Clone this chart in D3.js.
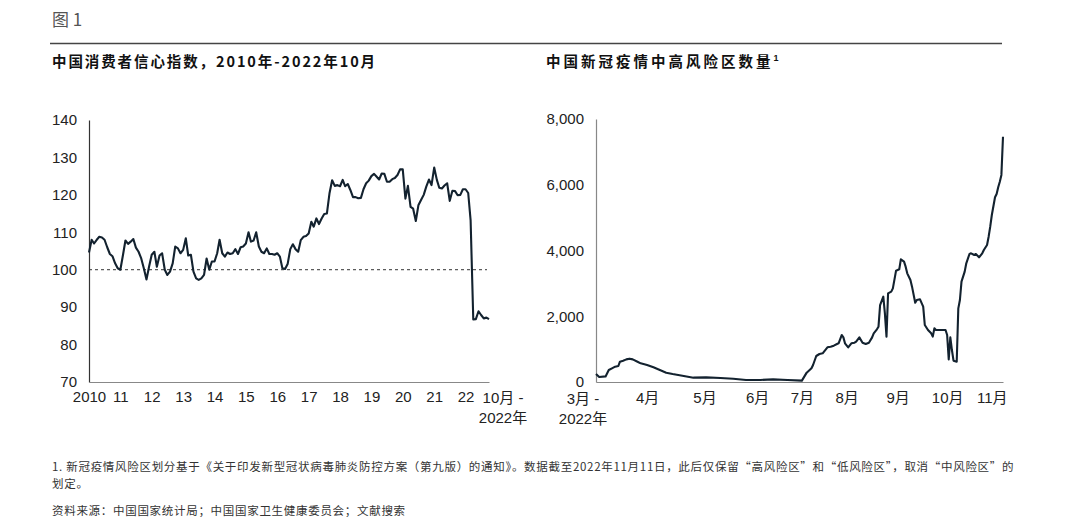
<!DOCTYPE html>
<html><head><meta charset="utf-8">
<script src="https://cdn.jsdelivr.net/npm/d3@7"></script>
<style>
body{margin:0;background:#fff;}
svg{display:block;}
.tick text{font-family:"Liberation Sans",Arial,"Noto Sans CJK SC",sans-serif;}
</style></head>
<body><svg id="c" width="1080" height="526"></svg>
<script>
// ---------- DATA ----------
const cciStart = "2010-01";
const cciValues = [
 104.6,108.0,107.0,108.0,108.8,108.6,108.0,106.0,104.2,103.6,101.7,100.4,
 100.0,104.0,107.8,106.9,107.5,108.2,105.9,104.8,103.0,100.4,97.4,100.8,
 104.0,104.8,100.8,103.8,104.4,100.0,98.6,99.5,101.7,106.2,105.7,104.4,
 105.3,108.4,103.8,104.0,99.5,97.7,97.3,97.7,98.6,103.0,100.0,102.2,
 102.2,104.4,108.0,104.4,103.5,104.6,104.2,104.4,105.5,104.2,106.0,106.2,
 107.0,110.0,107.5,107.8,110.0,106.2,104.8,104.4,105.7,104.2,104.2,104.0,
 104.4,103.5,100.4,100.2,101.5,105.5,106.8,105.5,104.8,107.9,108.8,109.0,
 109.7,112.8,111.5,113.7,112.2,113.7,114.9,115.0,120.5,123.9,122.4,122.6,
 122.3,124.0,122.3,122.9,121.3,119.4,119.4,119.1,119.2,121.5,123.1,123.8,
 125.0,125.6,124.9,124.1,125.7,125.6,123.5,123.5,124.2,124.5,125.3,126.8,
 126.8,119.0,122.4,116.8,116.3,113.0,117.2,118.6,120.0,122.2,124.1,122.6,
 127.3,124.0,121.9,121.7,122.5,123.1,118.4,121.1,121.0,119.9,120.0,121.5,
 121.5,120.5,113.2,86.7,86.8,88.9,87.9,87.0,87.2,86.8
];
const cciYTicks = [70,80,90,100,110,120,130,140];
const cciXTickLabels = ["2010","11","12","13","14","15","16","17","18","19","20","21","22"];
const cciEndLabel = ["10月 -","2022年"];
const cciRef = 100;

const riskDates = ["2022-03-01","2022-03-03","2022-03-07","2022-03-09","2022-03-11","2022-03-13","2022-03-15","2022-03-16","2022-03-18","2022-03-20","2022-03-22","2022-03-24","2022-03-27","2022-03-29",
 "2022-04-02","2022-04-06","2022-04-10","2022-04-14","2022-04-18","2022-04-25",
 "2022-05-01","2022-05-09","2022-05-18","2022-05-26",
 "2022-06-03","2022-06-12","2022-06-20","2022-06-29",
 "2022-07-08","2022-07-11","2022-07-14","2022-07-15","2022-07-17","2022-07-19","2022-07-21","2022-07-24","2022-07-26","2022-07-28","2022-07-30","2022-07-31",
 "2022-08-02","2022-08-03","2022-08-04","2022-08-06","2022-08-08","2022-08-10","2022-08-11","2022-08-13","2022-08-15","2022-08-17","2022-08-19","2022-08-21","2022-08-22","2022-08-24","2022-08-25","2022-08-26","2022-08-28","2022-08-29","2022-08-30","2022-08-31",
 "2022-09-02","2022-09-03","2022-09-05","2022-09-07","2022-09-08","2022-09-10","2022-09-11","2022-09-12","2022-09-14","2022-09-15","2022-09-17","2022-09-18","2022-09-20","2022-09-22","2022-09-23","2022-09-25","2022-09-27","2022-09-28","2022-09-29","2022-09-30",
 "2022-10-03","2022-10-05","2022-10-06","2022-10-07","2022-10-08","2022-10-09","2022-10-10","2022-10-11","2022-10-13","2022-10-14","2022-10-15","2022-10-16","2022-10-18","2022-10-19","2022-10-21","2022-10-22","2022-10-24","2022-10-25","2022-10-27","2022-10-29","2022-10-30",
 "2022-11-01","2022-11-02","2022-11-03","2022-11-04","2022-11-06","2022-11-07","2022-11-08","2022-11-09","2022-11-10","2022-11-11"];
const riskValues = [243,150,170,365,416,466,487,618,649,689,710,689,618,568,
 517,446,365,284,243,182,
 132,142,122,101,
 61,61,81,61,
 41,284,416,517,791,852,872,1055,1075,1105,1156,1176,
 1430,1358,1176,1055,1176,1196,1227,1358,1196,1156,1196,1358,1480,1602,1683,2342,2596,2089,1379,2697,
 2748,2849,3386,3427,3731,3660,3508,3305,3103,2900,2413,2494,2515,2292,1734,1582,1480,1379,1632,1582,
 1582,1582,1582,1430,689,1358,973,649,618,2241,2494,3052,3356,3610,3894,3914,3863,3894,3792,3914,4015,
 4167,4420,4724,5080,5618,5719,5922,6093,6300,7462];
const riskYTicks = [0,2000,4000,6000,8000];
const riskXTickDates = ["2022-04-02","2022-05-08","2022-06-10","2022-07-08","2022-08-05","2022-09-06","2022-10-07","2022-11-04"];
const riskXTickLabels = ["4月","5月","6月","7月","8月","9月","10月","11月"];
const riskStartLabel = ["3月 -","2022年"];

const figLabel = "图 1";
const titleLeft = "中国消费者信心指数，2010年-2022年10月";
const titleRight = "中国新冠疫情中高风险区数量";
const footnote1 = "1. 新冠疫情风险区划分基于《关于印发新型冠状病毒肺炎防控方案（第九版）的通知》。数据截至2022年11月11日，此后仅保留“高风险区”和“低风险区”，取消“中风险区”的";
const footnote2 = "划定。";
const sourceText = "资料来源：中国国家统计局；中国国家卫生健康委员会；文献搜索";

// ---------- DRAW ----------
const svg = d3.select("#c");
svg.append("rect").attr("width",1080).attr("height",526).attr("fill","#fff");
const FONT = '"Liberation Sans",Arial,"Noto Sans CJK SC",sans-serif';
const CJK = '"Noto Sans CJK SC","Liberation Sans",sans-serif';
const LINE = "#13222f";

svg.append("text").attr("x",52).attr("y",26).attr("font-family",CJK).attr("font-size",17)
  .attr("fill","#555").text(figLabel);
svg.append("line").attr("x1",50).attr("x2",1002).attr("y1",43.5).attr("y2",43.5)
  .attr("stroke","#444").attr("stroke-width",1.3);
svg.append("text").attr("x",52).attr("y",67).attr("font-family",CJK).attr("font-size",14.5)
  .attr("font-weight","bold").attr("letter-spacing","1.9px").attr("fill","#111").text(titleLeft);
const tr = svg.append("text").attr("x",546).attr("y",67).attr("font-family",CJK).attr("font-size",14.5)
  .attr("font-weight","bold").attr("letter-spacing","3px").attr("fill","#111");
tr.append("tspan").text(titleRight);
tr.append("tspan").attr("font-size",9).attr("dy",-6).attr("font-family",FONT).text("1");

// Left chart
const parseM = d3.timeParse("%Y-%m");
const t0 = parseM(cciStart);
const cciData = cciValues.map((v,i)=>({d:d3.timeMonth.offset(t0,i), v}));
const xL = d3.scaleTime().domain([t0, cciData[cciData.length-1].d]).range([89,489]);
const yL = d3.scaleLinear().domain([70,140]).range([382,120]);

const gyL = svg.append("g").attr("transform",`translate(${xL.range()[0]},0)`)
  .call(d3.axisLeft(yL).tickValues(cciYTicks).tickSize(0).tickSizeOuter(0).tickPadding(12));
gyL.select(".domain").attr("stroke","#333").attr("stroke-width",1.2);
gyL.selectAll("text").attr("font-size",15).attr("fill","#222").attr("font-family",FONT);

const yearDates = cciXTickLabels.map((l,i)=>d3.timeYear.offset(t0,i));
const gxL = svg.append("g").attr("transform",`translate(0,${yL(70)})`)
  .call(d3.axisBottom(xL).tickValues(yearDates).tickSize(0).tickSizeOuter(0).tickPadding(9)
  .tickFormat((d,i)=>cciXTickLabels[i]));
gxL.select(".domain").attr("stroke","#888").attr("stroke-width",1.2);
gxL.selectAll("text").attr("font-size",15).attr("fill","#222").attr("font-family",FONT);
const endX = xL(cciData[cciData.length-1].d)+14;
cciEndLabel.forEach((t,i)=>svg.append("text").attr("x",endX).attr("y",yL(70)+21+i*20)
  .attr("text-anchor","middle").attr("font-family",FONT).attr("font-size",15).attr("fill","#222").text(t));

svg.append("line").attr("x1",xL.range()[0]).attr("x2",xL.range()[1]-2)
  .attr("y1",yL(cciRef)).attr("y2",yL(cciRef)).attr("stroke","#333").attr("stroke-width",1)
  .attr("stroke-dasharray","3,3");

svg.append("path").datum(cciData).attr("fill","none").attr("stroke",LINE).attr("stroke-width",2.1)
  .attr("stroke-linejoin","round")
  .attr("d",d3.line().x(d=>xL(d.d)).y(d=>yL(d.v)));

// Right chart
const parseD = d3.timeParse("%Y-%m-%d");
const riskData = riskDates.map((d,i)=>({d:parseD(d), v:riskValues[i]}));
const xR = d3.scaleTime().domain([riskData[0].d, riskData[riskData.length-1].d]).range([596,1003]);
const yR = d3.scaleLinear().domain([0,8000]).range([382,119]);

const gyR = svg.append("g").attr("transform",`translate(${xR.range()[0]},0)`)
  .call(d3.axisLeft(yR).tickValues(riskYTicks).tickSize(0).tickSizeOuter(0).tickPadding(12)
  .tickFormat(d3.format(",")));
gyR.select(".domain").attr("stroke","#888").attr("stroke-width",1.2);
gyR.selectAll("text").attr("font-size",15).attr("fill","#222").attr("font-family",FONT);

const gxR = svg.append("g").attr("transform",`translate(0,${yR(0)})`)
  .call(d3.axisBottom(xR).tickValues(riskXTickDates.map(parseD)).tickSize(0).tickSizeOuter(0).tickPadding(10)
  .tickFormat((d,i)=>riskXTickLabels[i]));
gxR.select(".domain").attr("stroke","#888").attr("stroke-width",1.2);
gxR.selectAll("text").attr("font-size",15).attr("fill","#222").attr("font-family",FONT);
const startX = xR(riskData[0].d)-13;
riskStartLabel.forEach((t,i)=>svg.append("text").attr("x",startX).attr("y",yR(0)+22+i*20)
  .attr("text-anchor","middle").attr("font-family",FONT).attr("font-size",15).attr("fill","#222").text(t));

svg.append("path").datum(riskData).attr("fill","none").attr("stroke",LINE).attr("stroke-width",2.1)
  .attr("stroke-linejoin","round")
  .attr("d",d3.line().x(d=>xR(d.d)).y(d=>yR(d.v)));

// Footnotes
[[footnote1,471],[footnote2,488],[sourceText,515]].forEach(([t,y])=>
  svg.append("text").attr("x",52).attr("y",y).attr("font-family",CJK).attr("font-size",11.5)
   .attr("letter-spacing","0.7px").attr("fill","#333").text(t));
</script></body></html>
